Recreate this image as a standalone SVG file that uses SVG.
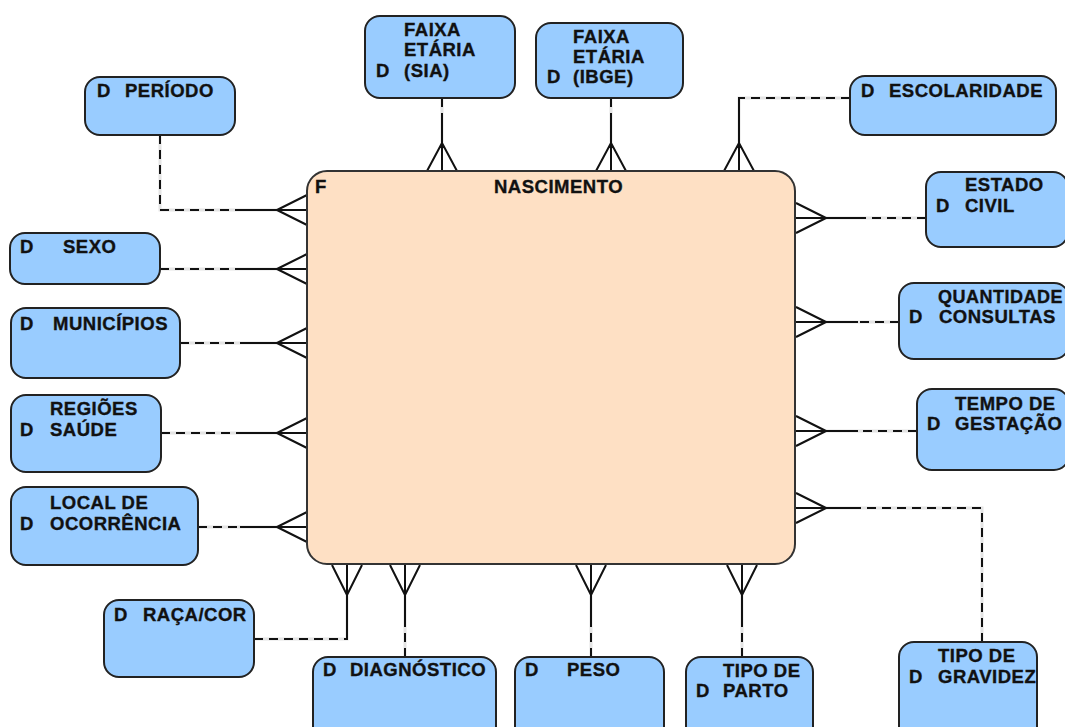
<svg xmlns="http://www.w3.org/2000/svg" width="1065" height="727" viewBox="0 0 1065 727">
<style>
.dim{fill:#99CCFF;stroke:#222;stroke-width:2}
.fact{fill:#FEE0C4;stroke:#333;stroke-width:2}
.t{font-family:"Liberation Sans",Arial,sans-serif;font-weight:bold;font-size:18.5px;letter-spacing:0.5px;fill:#111;stroke:#111;stroke-width:0.35}
.under{fill:none;stroke:#e4e4e4;stroke-width:3}
.dash{fill:none;stroke:#111;stroke-width:2;stroke-dasharray:9 6}
.solid{fill:none;stroke:#111;stroke-width:2}
.crow{fill:none;stroke:#111;stroke-width:2}
</style>
<rect width="1065" height="727" fill="#fff"/>
<g id="connectors">
  <path class="under" d="M160,135 V210 H277 M160,269 H277 M180,343 H277 M161,433 H277 M198,527 H277 M254,639 H347 V595 M405,657 V595 M591,657 V595 M742,657 V595 M982,642 V508 H826 M917,431 H826 M899,322 H826 M926,218 H826 M850,98 H739 V143 M442,98 V143 M611,98 V143"/>
  <path class="dash" d="M160,135 V210 H277"/>
  <path class="dash" d="M160,269 H277"/>
  <path class="dash" d="M180,343 H277"/>
  <path class="dash" d="M161,433 H277"/>
  <path class="dash" d="M198,527 H277"/>
  <path class="dash" d="M254,639 H347 V595"/>
  <path class="dash" d="M405,657 V595"/>
  <path class="dash" d="M591,657 V595"/>
  <path class="dash" d="M742,657 V595"/>
  <path class="dash" d="M982,642 V508 H826"/>
  <path class="dash" d="M917,431 H826"/>
  <path class="dash" d="M899,322 H826"/>
  <path class="dash" d="M926,218 H826"/>
  <path class="dash" d="M850,98 H739 V143"/>
  <path class="dash" d="M442,98 V143"/>
  <path class="dash" d="M611,98 V143"/>
  <path class="solid" d="M240,210 H277 M240,269 H277 M240,343 H277 M240,433 H277 M240,527 H277 M347,639 V595 M405,625 V595 M591,620 V595 M742,620 V595 M826,508 H860 M826,431 H858 M826,322 H858 M826,218 H860 M739,98 V143 M442,120 V143 M611,120 V143"/>
  <path class="crow" d="M277,210 L307,195 M277,210 L307,210 M277,210 L307,225
    M277,269 L307,254 M277,269 L307,269 M277,269 L307,284
    M277,343 L307,328 M277,343 L307,343 M277,343 L307,358
    M277,433 L307,418 M277,433 L307,433 M277,433 L307,448
    M277,527 L307,512 M277,527 L307,527 M277,527 L307,542
    M826,218 L796,203 M826,218 L796,218 M826,218 L796,233
    M826,322 L796,307 M826,322 L796,322 M826,322 L796,337
    M826,431 L796,416 M826,431 L796,431 M826,431 L796,446
    M826,508 L796,493 M826,508 L796,508 M826,508 L796,523
    M442,143 L427,171 M442,143 L442,171 M442,143 L457,171
    M611,143 L596,171 M611,143 L611,171 M611,143 L626,171
    M739,143 L724,171 M739,143 L739,171 M739,143 L754,171
    M347,595 L332,565 M347,595 L347,565 M347,595 L362,565
    M405,595 L390,565 M405,595 L405,565 M405,595 L420,565
    M591,595 L576,565 M591,595 L591,565 M591,595 L606,565
    M742,595 L727,565 M742,595 L742,565 M742,595 L757,565"/>
</g>
<g id="nascimento">
  <rect class="fact" x="307" y="171" width="488" height="393" rx="20"/>
  <text class="t" x="315" y="193">F</text>
  <text class="t" x="494" y="193">NASCIMENTO</text>
</g>
<g id="faixa-sia">
  <rect class="dim" x="365" y="16" width="150" height="82" rx="15"/>
  <text class="t" x="404" y="36">FAIXA</text>
  <text class="t" x="404" y="56">ETÁRIA</text>
  <text class="t" x="376" y="77">D</text>
  <text class="t" x="404" y="77">(SIA)</text>
</g>
<g id="faixa-ibge">
  <rect class="dim" x="536" y="23" width="147" height="75" rx="15"/>
  <text class="t" x="573" y="43">FAIXA</text>
  <text class="t" x="573" y="63">ETÁRIA</text>
  <text class="t" x="547" y="83">D</text>
  <text class="t" x="573" y="83">(IBGE)</text>
</g>
<g id="periodo">
  <rect class="dim" x="85" y="77" width="150" height="58" rx="15"/>
  <text class="t" x="97" y="97">D</text>
  <text class="t" x="125" y="97">PERÍODO</text>
</g>
<g id="escolaridade">
  <rect class="dim" x="850" y="76" width="206" height="59" rx="15"/>
  <text class="t" x="861" y="97">D</text>
  <text class="t" x="889" y="97">ESCOLARIDADE</text>
</g>
<g id="estado-civil">
  <rect class="dim" x="926" y="172" width="142" height="75" rx="15"/>
  <text class="t" x="965" y="191">ESTADO</text>
  <text class="t" x="936" y="212">D</text>
  <text class="t" x="965" y="212">CIVIL</text>
</g>
<g id="sexo">
  <rect class="dim" x="10" y="233" width="150" height="51" rx="15"/>
  <text class="t" x="20" y="253">D</text>
  <text class="t" x="63" y="253">SEXO</text>
</g>
<g id="municipios">
  <rect class="dim" x="11" y="308" width="169" height="70" rx="15"/>
  <text class="t" x="20" y="330">D</text>
  <text class="t" x="53" y="330">MUNICÍPIOS</text>
</g>
<g id="quantidade-consultas">
  <rect class="dim" x="899" y="283" width="170" height="76" rx="15"/>
  <text class="t" x="938" y="303" textLength="125" lengthAdjust="spacingAndGlyphs">QUANTIDADE</text>
  <text class="t" x="909" y="323">D</text>
  <text class="t" x="939" y="323">CONSULTAS</text>
</g>
<g id="regioes-saude">
  <rect class="dim" x="11" y="395" width="150" height="77" rx="15"/>
  <text class="t" x="50" y="415">REGIÕES</text>
  <text class="t" x="20" y="436">D</text>
  <text class="t" x="50" y="436">SAÚDE</text>
</g>
<g id="tempo-gestacao">
  <rect class="dim" x="917" y="389" width="152" height="81" rx="15"/>
  <text class="t" x="955" y="410">TEMPO DE</text>
  <text class="t" x="927" y="430">D</text>
  <text class="t" x="955" y="430">GESTAÇÃO</text>
</g>
<g id="local-ocorrencia">
  <rect class="dim" x="11" y="487" width="187" height="78" rx="15"/>
  <text class="t" x="50" y="509">LOCAL DE</text>
  <text class="t" x="20" y="530">D</text>
  <text class="t" x="50" y="530">OCORRÊNCIA</text>
</g>
<g id="raca-cor">
  <rect class="dim" x="104" y="600" width="150" height="77" rx="15"/>
  <text class="t" x="114" y="621">D</text>
  <text class="t" x="143" y="621">RAÇA/COR</text>
</g>
<g id="diagnostico">
  <rect class="dim" x="313" y="657" width="183" height="85" rx="15"/>
  <text class="t" x="323" y="676">D</text>
  <text class="t" x="350" y="676">DIAGNÓSTICO</text>
</g>
<g id="peso">
  <rect class="dim" x="515" y="657" width="149" height="85" rx="15"/>
  <text class="t" x="525" y="676">D</text>
  <text class="t" x="567" y="676">PESO</text>
</g>
<g id="tipo-parto">
  <rect class="dim" x="686" y="657" width="127" height="85" rx="15"/>
  <text class="t" x="723" y="677">TIPO DE</text>
  <text class="t" x="696" y="697">D</text>
  <text class="t" x="723" y="697">PARTO</text>
</g>
<g id="tipo-gravidez">
  <rect class="dim" x="899" y="642" width="138" height="100" rx="15"/>
  <text class="t" x="938" y="662">TIPO DE</text>
  <text class="t" x="909" y="683">D</text>
  <text class="t" x="938" y="683">GRAVIDEZ</text>
</g>
</svg>
